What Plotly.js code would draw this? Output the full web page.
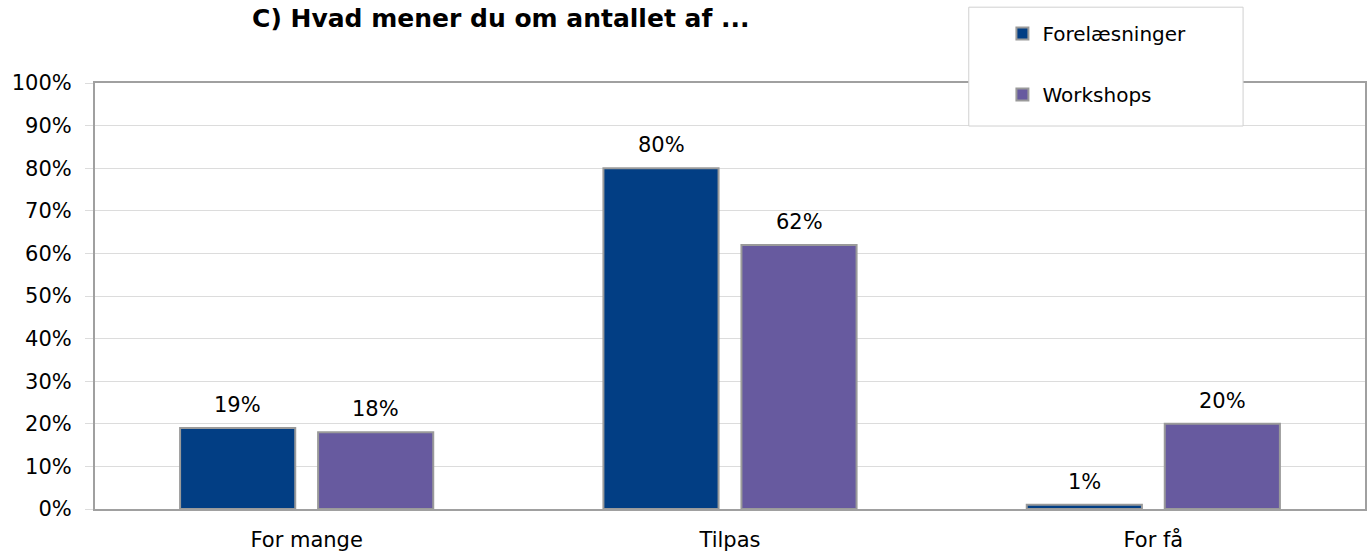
<!DOCTYPE html>
<html>
<head>
<meta charset="utf-8">
<script src="https://cdn.plot.ly/plotly-3.0.1.min.js"></script>
<style>html,body{margin:0;padding:0;background:#fff;}#chart{width:1372px;height:558px;}</style>
</head>
<body>
<div id="chart"></div>
<script>
const categories = ["For mange", "Tilpas", "For få"];
const seriesNames = ["Forelæsninger", "Workshops"];
const forelaesninger = [19, 80, 1];
const workshops = [18, 62, 20];
const yTickValues = [0, 10, 20, 30, 40, 50, 60, 70, 80, 90, 100];
const yTickLabels = ["0%", "10%", "20%", "30%", "40%", "50%", "60%", "70%", "80%", "90%", "100%"];
const titleText = "C) Hvad mener du om antallet af ...";

const FONT = "'Century Gothic', 'DejaVu Sans', sans-serif";
const colors = ["#023E84", "#675A9F"];
const barW = 0.272;
const halfGap = 0.027;

const traces = [
  {
    type: "bar", name: seriesNames[0], x: categories, y: forelaesninger,
    width: barW, offset: -(barW + halfGap),
    marker: {color: colors[0], line: {color: "#9a9a9a", width: 2}},
    legendgroup: "a", hoverinfo: "none"
  },
  {
    type: "bar", name: seriesNames[1], x: categories, y: workshops,
    width: barW, offset: halfGap,
    marker: {color: colors[1], line: {color: "#9a9a9a", width: 2}},
    legendgroup: "b", hoverinfo: "none"
  }
];

const annotations = [];
[forelaesninger, workshops].forEach((vals, s) => {
  vals.forEach((v, i) => {
    annotations.push({
      x: categories[i], y: v, xref: "x", yref: "y",
      text: v + "%", showarrow: false,
      xanchor: "center", yanchor: "bottom",
      xshift: s === 0 ? -69 : 69, yshift: 9,
      font: {family: FONT, size: 21, color: "#000"}
    });
  });
});

const layout = {
  width: 1372, height: 558,
  margin: {l: 95, r: 7, t: 83, b: 49},
  paper_bgcolor: "#fff", plot_bgcolor: "#fff",
  font: {family: FONT, size: 21, color: "#000"},
  title: {
    text: "<b>" + titleText + "</b>",
    x: 0.365, xanchor: "center", xref: "container",
    y: 0.968, yanchor: "middle", yref: "container",
    font: {family: FONT, size: 25, color: "#000"}
  },
  showlegend: true,
  legend: {
    x: 0.7145, xanchor: "left", y: 1.162, yanchor: "top",
    bgcolor: "rgba(0,0,0,0)", borderwidth: 0,
    traceorder: "grouped", tracegroupgap: 32,
    font: {family: FONT, size: 20, color: "#000"}
  },
  xaxis: {
    type: "category", range: [-0.5, 2.5],
    showgrid: false, showline: true, mirror: true,
    linecolor: "#a0a0a0", linewidth: 2,
    ticks: "", ticklabelstandoff: 11,
    tickfont: {family: FONT, size: 21, color: "#000"},
    fixedrange: true
  },
  yaxis: {
    range: [0, 100], tickmode: "array", tickvals: yTickValues, ticktext: yTickLabels,
    showgrid: true, gridcolor: "#dcdcdc", gridwidth: 1,
    showline: true, mirror: true, linecolor: "#a0a0a0", linewidth: 2,
    ticks: "outside", ticklen: 8, tickcolor: "#dcdcdc", tickwidth: 1,
    ticklabelstandoff: 9,
    tickfont: {family: FONT, size: 21, color: "#000"},
    zeroline: false, fixedrange: true
  },
  shapes: [
    {type: "rect", xref: "paper", yref: "paper",
     x0: 0.688, x1: 0.904, y0: 0.899, y1: 1.178,
     fillcolor: "#fff", line: {color: "#d0d0d0", width: 1}, layer: "above"}
  ],
  annotations: annotations
};

Plotly.newPlot("chart", traces, layout, {displayModeBar: false, staticPlot: true});
</script>
</body>
</html>
